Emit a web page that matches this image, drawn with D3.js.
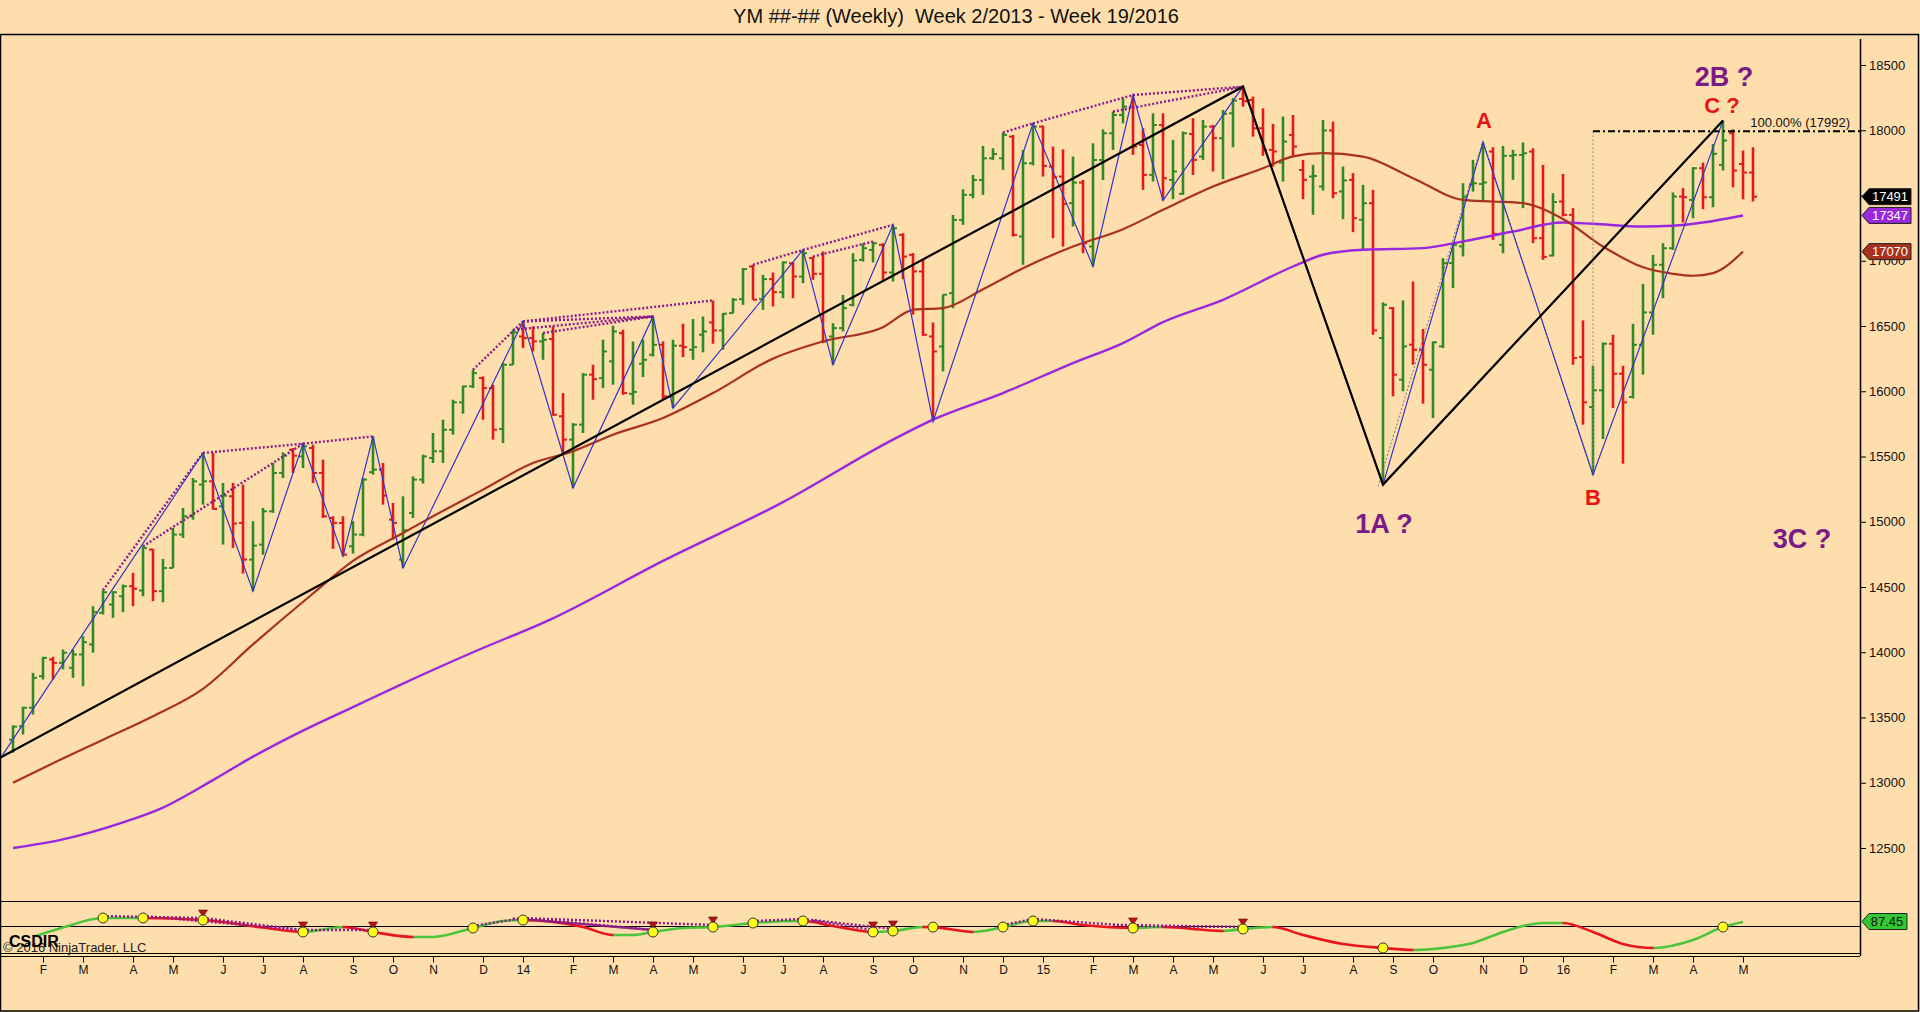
<!DOCTYPE html>
<html>
<head>
<meta charset="utf-8">
<script src="https://d3js.org/d3.v7.min.js"></script>
<style>
  body { margin:0; background:#FFDEAD; overflow:hidden; }
  text { font-family: "Liberation Sans", Arial, sans-serif; }
</style>
</head>
<body>
<script>
// weekly YM bars, index 0 = week 2/2013 (Jan 11), last = week 19/2016
var barOpen = [13330,13434,13575,13817,13945,13919,13881,13983,14060,14302,14366,14429,14506,14473,14787,14468,14646,14902,15042,15284,
  15310,15118,15195,14991,14710,14825,15080,15374,15552,15501,15565,15374,15029,14991,14812,14902,15380,15399,15016,14710,
  15067,15323,15489,15540,15705,15915,16037,16101,16024,15711,16203,16420,16407,16382,16400,15808,15629,15744,16127,16101,
  16229,16446,15980,16211,16280,16356,15961,16349,16318,16433,16527,16466,16599,16706,16956,16706,16859,16759,16981,16879,
  17020,16900,16420,16484,16662,17007,17083,17122,16910,17198,17045,16918,16420,16343,16752,17313,17505,17619,17785,17785,
  17951,17186,17747,18028,17722,17645,17441,17599,17109,17772,17977,18117,18181,17887,17658,18040,17620,17513,17972,17798,
  18028,17939,18130,18240,18232,18015,17850,17753,17964,17696,17645,17569,17998,17531,17620,17314,17441,16408,16637,16089,
  16357,16318,16165,16344,16982,17110,17582,17589,17837,17122,17804,17811,17837,17173,17040,17454,17352,16262,15879,16007,
  16364,16134,15956,16356,16604,16969,17096,17492,17466,17709,17487,17734,17977,17742,17676];
var barHigh = [13440,13582,13842,13965,13965,14021,14021,14123,14353,14475,14468,14519,14608,14812,14792,14715,14953,15106,15335,15527,
  15527,15297,15297,15284,15004,15106,15450,15532,15565,15598,15591,15476,15042,15042,15004,15335,15654,15450,15144,15195,
  15348,15514,15680,15782,15935,16042,16165,16114,16050,16216,16471,16535,16497,16446,16497,15986,15756,16139,16203,16395,
  16502,16471,16382,16395,16573,16382,16395,16517,16553,16573,16696,16599,16714,16943,16969,16892,16910,16994,16987,17083,
  17032,17071,16522,16739,17058,17134,17147,17134,17275,17211,17058,17007,16527,16740,17351,17548,17658,17880,17862,17982,
  17964,17849,18053,18035,17875,17854,17798,17619,17900,18007,18143,18245,18270,18015,18130,18130,17926,17990,18092,18079,
  18041,18156,18245,18334,18258,18168,18049,18105,18117,17773,17735,18079,18066,17722,17671,17582,17543,16681,16645,16696,
  16841,16477,16382,17020,17135,17594,17773,17906,17870,17880,17850,17906,17862,17735,17518,17665,17403,16543,16195,16374,
  16433,16195,16517,16823,17045,17135,17523,17556,17717,17752,17895,18074,18007,17844,17870];
var barLow = [13230,13370,13523,13791,13791,13868,13804,13740,13996,14289,14264,14307,14353,14429,14391,14383,14646,14876,15016,15131,
  15093,14825,14800,14603,14468,14748,15068,15335,15374,15412,15297,15029,14792,14736,14756,14889,15361,15131,14863,14646,
  15029,15292,15450,15450,15667,15828,16024,15782,15629,15603,16203,16331,16305,16241,15813,15527,15259,15680,15935,16024,
  16050,15973,15897,16109,16267,15935,15871,16262,16241,16298,16364,16318,16599,16662,16701,16624,16650,16713,16713,16828,
  16854,16369,16203,16458,16650,16994,16987,16854,16841,16859,16586,16425,15769,16152,16637,17275,17479,17505,17773,17696,
  17186,16969,17730,17645,17173,17109,17262,17058,16956,17619,17849,18053,17811,17543,17607,17462,17472,17505,17658,17773,
  17684,17625,17870,18181,17951,17804,17722,17607,17793,17472,17352,17538,17479,17319,17219,17084,16433,15285,15961,16000,
  16203,15905,15795,16331,16790,17033,17530,17454,17160,17058,17620,17403,17135,17007,17033,17340,16203,15744,15361,15634,
  15871,15445,15945,16127,16433,16713,17083,17293,17326,17395,17410,17691,17563,17471,17454];
var barClose = [13430,13575,13804,13957,13919,13996,13983,14077,14307,14460,14460,14506,14486,14800,14468,14646,14902,15042,15310,15310,
  15098,15200,14986,14710,14817,15080,15374,15506,15506,15578,15374,15042,14991,14748,14902,15323,15400,15200,14991,14935,
  15323,15501,15540,15705,15915,16037,16139,16024,15705,16203,16451,16407,16382,16394,15820,15629,15744,16127,16093,16305,
  16458,15986,15995,16241,16356,15961,16349,16338,16338,16458,16466,16594,16701,16936,16701,16859,16759,16987,16879,17058,
  16900,16382,16484,16637,17002,17096,17134,16910,17249,17032,16918,16433,16305,16740,17313,17505,17619,17785,17818,17964,
  17198,17747,18028,17727,17640,17436,17599,17134,17772,17977,18117,18181,17875,17658,18040,17632,17684,17977,17773,18028,
  17939,18125,18227,18222,18015,17850,17837,17913,17875,17620,17650,17998,17518,17615,17326,17441,16466,16663,16127,16344,
  16318,16203,16375,16982,17122,17492,17594,17600,17206,17804,17811,17824,17173,17030,17450,17352,16254,15915,16007,16364,
  16134,15915,16356,16604,16969,17096,17492,17487,17709,17487,17819,17921,17691,17676,17491];

// moving averages (bar index, price)
var maBrownIdx = [0,4,9,14,19,24,30,34,39,42,47,52,56,60,65,70,76,81,87,90,93,97,101,106,111,115,120,125,128,131,135,140,145,148,151,155,159,163,166,168,170,173];
var maBrownVal = [13000,13150,13330,13510,13720,14060,14450,14700,14914,15042,15246,15450,15540,15667,15795,15986,16250,16382,16491,16624,16637,16782,16943,17109,17242,17390,17569,17709,17800,17824,17798,17633,17467,17454,17441,17320,17109,16950,16900,16885,16905,17070];
var maPurpleIdx = [0,5,11,15,20,24,29,34,39,46,54,65,77,88,92,99,106,111,115,121,128,131,135,141,145,150,155,158,163,166,169,173];
var maPurpleVal = [12500,12566,12696,12810,13020,13200,13400,13580,13760,14000,14260,14700,15150,15629,15782,15986,16216,16369,16530,16701,16956,17046,17084,17097,17148,17224,17293,17283,17262,17268,17293,17347];

// CSDIR indicator
var indIdx = [2,5,9,13,19,25,29,33,36,40,42,46,49,51,57,60,62,64,67,70,74,79,82,86,88,91,92,96,97,99,102,104,107,112,115,121,123,126,129,133,137,140,143,146,149,151,153,155,158,161,164,168,171,173];
var indVal = [-204,-20,165,166,126,-20,-107,-10,-107,-204,-204,-29,107,126,-10,-165,-165,-107,-29,-10,68,107,10,-107,-87,-10,-12,-107,-87,-10,107,107,29,-29,-10,-87,-49,-10,-165,-340,-417,-456,-417,-320,-107,10,68,68,-107,-340,-417,-262,-10,87];
var indCircleIdx = [9,13,19,29,36,46,51,64,70,74,79,86,88,92,99,102,112,123,137,171];
var indArrowIdx = [19,29,36,64,70,86,88,112,123];

// x axis months (first bar of each month)
var monthTickIdx = [3,7,12,16,21,25,29,34,38,42,47,51,56,60,64,68,73,77,81,86,90,95,99,103,108,112,116,120,125,129,134,138,142,147,151,155,160,164,168,173];
var monthTickLabels = ["F","M","A","M","J","J","A","S","O","N","D","14","F","M","A","M","J","J","A","S","O","N","D","15","F","M","A","M","J","J","A","S","O","N","D","16","F","M","A","M"];
var priceTicks = [12500,13000,13500,14000,14500,15000,15500,16000,16500,17000,17500,18000,18500];

// drawing objects
var zigStart = [-1.2, 13195];
var zigIdx = [19,24,29,33,36,39,51,56,64,66,79,82,88,92,102,108,112,115,123,137,147,158,171];
var trendStart = [-1.3, 13192];
var trendIdx = [123,137,171];
var divPairs = [[9,19],[13,29],[19,29],[29,36],[46,51],[50,64],[51,64],[51,70],[53,64],[74,79],[79,88],[80,86],[99,102],[102,112],[110,123],[112,123]];
var fibPts = [[136.5,15270],[147,17920],[158,15350]];
var fibLevel = 17992;
var annotText = ["1A ?","A","B","2B ?","C ?","3C ?"];
var annotIdx = [137.1,147.1,158,171.1,170.9,178.9];
var annotPrice = [14990,18080,15190,18410,18195,14870];

var W = 1920, H = 1012;
var plotR = 1860;
var xs = d3.scaleLinear().domain([0,174]).range([13,1753]);
var ys = d3.scaleLinear().domain([12500,18500]).range([848,65]);
var yi = d3.scaleLinear().domain([-515,515]).range([953,900]);

var GREEN = "#2E8B24", RED = "#E31A1A";

var svg = d3.select("body").append("svg").attr("width", W).attr("height", H);
svg.append("rect").attr("width", W).attr("height", H).attr("fill", "#FFDEAD");

svg.append("text").attr("x", 956).attr("y", 23).attr("text-anchor", "middle")
    .attr("font-size", 20).style("white-space", "pre").attr("fill", "#111")
    .text("YM ##-## (Weekly)  Week 2/2013 - Week 19/2016");

var defs = svg.append("defs");
defs.append("clipPath").attr("id", "pclip").append("rect")
    .attr("x", 1).attr("y", 35).attr("width", plotR - 1).attr("height", 865);

// frame
svg.append("rect").attr("x", 0.5).attr("y", 34.5).attr("width", 1918).attr("height", 976.5)
    .attr("fill", "none").attr("stroke", "#000").attr("stroke-width", 1.5);
svg.append("line").attr("x1", plotR + 0.5).attr("x2", plotR + 0.5).attr("y1", 39).attr("y2", 956)
    .attr("stroke", "#000").attr("stroke-width", 1.5);
[901.5, 926.5, 953.5, 956.5].forEach(function (y) {
  svg.append("line").attr("x1", 0).attr("x2", plotR).attr("y1", y).attr("y2", y)
      .attr("stroke", "#000").attr("stroke-width", 1.2);
});

var plot = svg.append("g").attr("clip-path", "url(#pclip)");

// OHLC bars
var idx = d3.range(barClose.length);
var bars = plot.append("g").selectAll("g").data(idx).enter().append("g")
    .attr("stroke", function (i) { return barClose[i] >= barOpen[i] ? GREEN : RED; });
bars.append("line").attr("x1", function (i) { return xs(i); }).attr("x2", function (i) { return xs(i); })
    .attr("y1", function (i) { return ys(barHigh[i]); }).attr("y2", function (i) { return ys(barLow[i]); })
    .attr("stroke-width", 2.6);
bars.append("line").attr("x1", function (i) { return xs(i) - 4; }).attr("x2", function (i) { return xs(i); })
    .attr("y1", function (i) { return ys(barOpen[i]); }).attr("y2", function (i) { return ys(barOpen[i]); })
    .attr("stroke-width", 2);
bars.append("line").attr("x1", function (i) { return xs(i); }).attr("x2", function (i) { return xs(i) + 4; })
    .attr("y1", function (i) { return ys(barClose[i]); }).attr("y2", function (i) { return ys(barClose[i]); })
    .attr("stroke-width", 2);

// moving averages
var maLine = d3.line().x(function (d) { return xs(d[0]); }).y(function (d) { return ys(d[1]); }).curve(d3.curveMonotoneX);
plot.append("path").attr("d", maLine(d3.zip(maPurpleIdx, maPurpleVal)))
    .attr("fill", "none").attr("stroke", "#9A26DE").attr("stroke-width", 2.4);
plot.append("path").attr("d", maLine(d3.zip(maBrownIdx, maBrownVal)))
    .attr("fill", "none").attr("stroke", "#A8321E").attr("stroke-width", 2.2);

// divergence dotted lines on highs
plot.append("g").selectAll("line").data(divPairs).enter().append("line")
    .attr("x1", function (d) { return xs(d[0]); }).attr("x2", function (d) { return xs(d[1]); })
    .attr("y1", function (d) { return ys(barHigh[d[0]]); }).attr("y2", function (d) { return ys(barHigh[d[1]]); })
    .attr("stroke", "#8B1A8B").attr("stroke-width", 2.4).attr("stroke-dasharray", "2,2");

// fib tool: dotted gray legs, vertical, 100% level
var straight = d3.line().x(function (d) { return xs(d[0]); }).y(function (d) { return ys(d[1]); });
plot.append("path").attr("d", straight(fibPts)).attr("fill", "none")
    .attr("stroke", "#777").attr("stroke-width", 1).attr("stroke-dasharray", "2,2");
plot.append("line").attr("x1", xs(158)).attr("x2", xs(158)).attr("y1", ys(fibLevel)).attr("y2", ys(barLow[158]))
    .attr("stroke", "#888").attr("stroke-width", 1).attr("stroke-dasharray", "2,2");
plot.append("line").attr("x1", xs(158)).attr("x2", plotR).attr("y1", ys(fibLevel)).attr("y2", ys(fibLevel))
    .attr("stroke", "#000").attr("stroke-width", 2).attr("stroke-dasharray", "7,3,2,3");
svg.append("text").attr("x", 1850).attr("y", ys(fibLevel) - 4).attr("text-anchor", "end")
    .attr("font-size", 13).attr("fill", "#111").text("100.00% (" + fibLevel + ")");

// blue zigzag
var zigPts = [zigStart].concat(zigIdx.map(function (i, k) { return [i, k % 2 === 0 ? barHigh[i] : barLow[i]]; }));
plot.append("path").attr("d", straight(zigPts)).attr("fill", "none")
    .attr("stroke", "#3333C8").attr("stroke-width", 1.2);

// black trend lines
var trendPts = [trendStart].concat(trendIdx.map(function (i, k) { return [i, k % 2 === 0 ? barHigh[i] : barLow[i]]; }));
plot.append("path").attr("d", straight(trendPts)).attr("fill", "none")
    .attr("stroke", "#000").attr("stroke-width", 2.2);

// wave annotations
var annotColor = ["#7A1A86", "#E81414", "#E81414", "#7A1A86", "#E81414", "#7A1A86"];
var annotSize = [27, 22, 22, 27, 22, 27];
svg.append("g").selectAll("text").data(annotText).enter().append("text")
    .attr("x", function (d, k) { return xs(annotIdx[k]); })
    .attr("y", function (d, k) { return ys(annotPrice[k]); })
    .attr("dy", "0.36em").attr("text-anchor", "middle").attr("font-weight", "bold")
    .attr("font-size", function (d, k) { return annotSize[k]; })
    .attr("fill", function (d, k) { return annotColor[k]; })
    .style("white-space", "pre").text(function (d) { return d; });

// price axis
var yAxis = svg.append("g").attr("transform", "translate(" + plotR + ",0)")
    .call(d3.axisRight(ys).tickValues(priceTicks).tickSize(6).tickPadding(3).tickFormat(d3.format("d")));
yAxis.select(".domain").remove();
yAxis.selectAll("text").attr("font-size", 13).attr("font-family", "Liberation Sans, Arial, sans-serif").attr("fill", "#111");
yAxis.selectAll("line").attr("stroke", "#000");

// last-value flags
function flag(y, fill, label, txt) {
  var g = svg.append("g");
  g.append("path").attr("d", "M1862," + y + "L1869," + (y - 8) + "L1911," + (y - 8) + "L1911," + (y + 8) + "L1869," + (y + 8) + "Z")
      .attr("fill", fill).attr("stroke", "#222").attr("stroke-width", 1);
  g.append("text").attr("x", 1890).attr("y", y).attr("dy", "0.36em").attr("text-anchor", "middle")
      .attr("font-size", 13).attr("fill", txt).text(label);
}
flag(ys(barClose[barClose.length - 1]), "#000", barClose[barClose.length - 1], "#fff");
flag(ys(maPurpleVal[maPurpleVal.length - 1]), "#9A26DE", maPurpleVal[maPurpleVal.length - 1], "#fff");
flag(ys(maBrownVal[maBrownVal.length - 1]), "#A8321E", maBrownVal[maBrownVal.length - 1], "#fff");

// indicator panel
var indLine = d3.line().x(function (d) { return xs(d[0]); }).y(function (d) { return yi(d[1]); }).curve(d3.curveMonotoneX);
var indPts = d3.zip(indIdx, indVal);
var gClip = defs.append("clipPath").attr("id", "upclip");
var rClip = defs.append("clipPath").attr("id", "dnclip");
for (var k = 0; k < indIdx.length - 1; k++) {
  var c = indVal[k + 1] >= indVal[k] ? gClip : rClip;
  c.append("rect").attr("x", xs(indIdx[k]) - 0.5).attr("width", xs(indIdx[k + 1]) - xs(indIdx[k]) + 1)
      .attr("y", 895).attr("height", 65);
}
svg.append("path").attr("d", indLine(indPts)).attr("clip-path", "url(#upclip)")
    .attr("fill", "none").attr("stroke", "#4CC43C").attr("stroke-width", 2.6);
svg.append("path").attr("d", indLine(indPts)).attr("clip-path", "url(#dnclip)")
    .attr("fill", "none").attr("stroke", "#E8141E").attr("stroke-width", 2.6);

function indAt(i) {
  for (var k = 0; k < indIdx.length - 1; k++) {
    if (i >= indIdx[k] && i <= indIdx[k + 1]) {
      var t = (i - indIdx[k]) / (indIdx[k + 1] - indIdx[k]);
      return indVal[k] + t * (indVal[k + 1] - indVal[k]);
    }
  }
  return indVal[indVal.length - 1];
}
svg.append("g").selectAll("line").data(divPairs).enter().append("line")
    .attr("x1", function (d) { return xs(d[0]); }).attr("x2", function (d) { return xs(d[1]); })
    .attr("y1", function (d) { return yi(indAt(d[0])) - 2; }).attr("y2", function (d) { return yi(indAt(d[1])) - 2; })
    .attr("stroke", "#8B1A8B").attr("stroke-width", 2.4).attr("stroke-dasharray", "2,2");
svg.append("g").selectAll("path").data(indArrowIdx).enter().append("path")
    .attr("d", function (i) {
      var x = xs(i), y = yi(indAt(i));
      return "M" + (x - 4.5) + "," + (y - 10) + "L" + (x + 4.5) + "," + (y - 10) + "L" + x + "," + (y - 3) + "Z";
    })
    .attr("fill", "#B0141A").attr("stroke", "#6a0000").attr("stroke-width", 0.6);
svg.append("g").selectAll("circle").data(indCircleIdx).enter().append("circle")
    .attr("cx", function (i) { return xs(i); }).attr("cy", function (i) { return yi(indAt(i)); })
    .attr("r", 5).attr("fill", "#FFFF1A").attr("stroke", "#333").attr("stroke-width", 1);

// indicator flag
var lastInd = 87.45;
svg.append("path").attr("d", "M1862," + 921.5 + "L1869,913.5L1907,913.5L1907,929.5L1869,929.5Z")
    .attr("fill", "#33C833").attr("stroke", "#222").attr("stroke-width", 1);
svg.append("text").attr("x", 1887).attr("y", 921.5).attr("dy", "0.36em").attr("text-anchor", "middle")
    .attr("font-size", 13).attr("fill", "#111").text(lastInd.toFixed(2));

svg.append("text").attr("x", 3).attr("y", 952).attr("font-size", 13).attr("fill", "#222")
    .text("\u00A9 2016 NinjaTrader, LLC");
svg.append("text").attr("x", 9).attr("y", 947).attr("font-size", 16).attr("font-weight", "bold").attr("fill", "#000")
    .text("CSDIR");

// time axis
var xAxis = svg.append("g").attr("transform", "translate(0,956.5)")
    .call(d3.axisBottom(xs).tickValues(monthTickIdx).tickSize(6).tickPadding(3)
      .tickFormat(function (d, k) { return monthTickLabels[k]; }));
xAxis.select(".domain").remove();
xAxis.selectAll("text").attr("font-size", 12).attr("font-family", "Liberation Sans, Arial, sans-serif").attr("fill", "#111");
xAxis.selectAll("line").attr("stroke", "#000");
</script>
</body>
</html>
